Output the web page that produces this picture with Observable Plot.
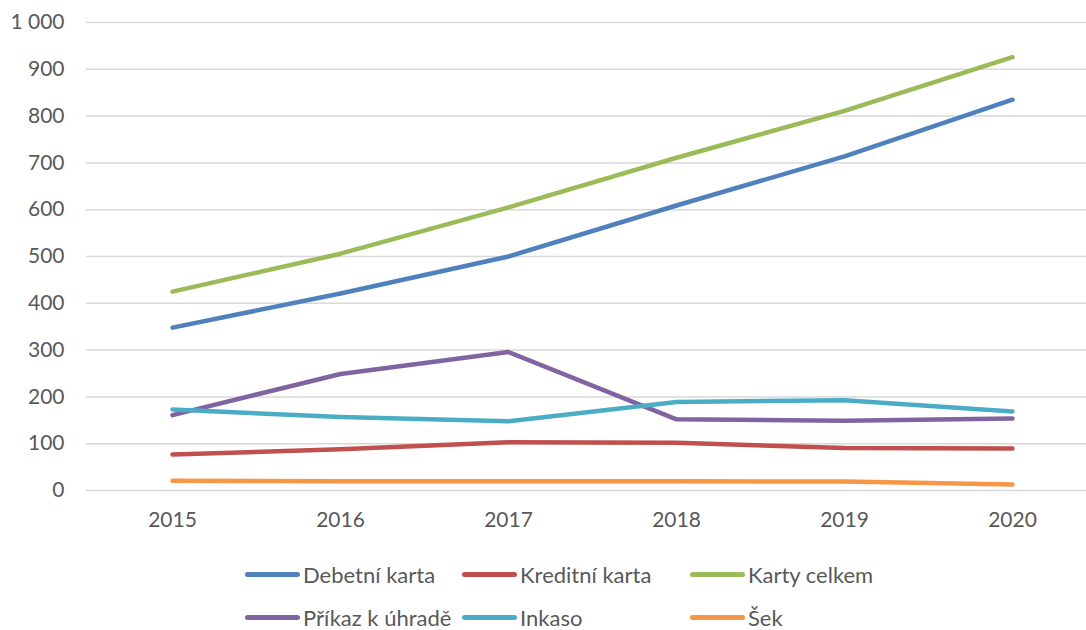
<!DOCTYPE html>
<html><head><meta charset="utf-8">
<script src="https://cdn.jsdelivr.net/npm/d3@7"></script>
<script src="https://cdn.jsdelivr.net/npm/@observablehq/plot@0.6"></script>
<style>
body{margin:0;background:#fff;font-family:Lato,"Open Sans",sans-serif;}
#wrap{position:relative;width:1086px;height:630px;}
#legend{position:absolute;left:0;top:0;width:1086px;height:630px;pointer-events:none;}
.li{position:absolute;display:flex;align-items:center;font-size:22px;color:#595959;white-space:nowrap;}
.sw{display:inline-block;width:55px;height:5px;border-radius:3px;margin-right:3px;}
</style></head>
<body><div id="wrap"><div id="chart"></div><div id="legend"></div></div>
<script>
const years = [2015, 2016, 2017, 2018, 2019, 2020];
const seriesNames = ["Debetní karta", "Kreditní karta", "Karty celkem", "Příkaz k úhradě", "Inkaso", "Šek"];
const debetni = [348, 421, 500, 609, 714, 835];
const kreditni = [77, 88, 103, 102, 91, 90];
const kartyCelkem = [425, 506, 605, 711, 811, 926];
const prikaz = [161, 249, 296, 152, 149, 154];
const inkaso = [173, 157, 148, 189, 193, 169];
const sek = [21, 20, 20, 20, 19, 13];
const yTicks = [0, 100, 200, 300, 400, 500, 600, 700, 800, 900, 1000];
const colors = ["#4f81bd", "#c0504d", "#9bbb59", "#8064a2", "#4bacc6", "#f79646"];

const allValues = [debetni, kreditni, kartyCelkem, prikaz, inkaso, sek];
const data = [];
seriesNames.forEach((s, i) => years.forEach((y, j) => data.push({series: s, year: y, value: allValues[i][j]})));

const fmt = d => d3.format(",")(d).replace(/,/g, " ");

const chart = Plot.plot({
  width: 1086, height: 540,
  marginLeft: 86, marginRight: 0, marginTop: 22, marginBottom: 50,
  style: {fontFamily: "Lato, 'Open Sans', sans-serif", fontSize: "21px", color: "#595959", background: "#fff"},
  x: {type: "point", domain: years, range: [171, 1012], padding: 0},
  y: {domain: [0, 1000]},
  color: {domain: seriesNames, range: colors},
  marks: [
    Plot.gridY(yTicks, {stroke: "#d9d9d9", strokeOpacity: 1, strokeWidth: 1.5}),
    Plot.axisY(yTicks, {tickSize: 0, tickPadding: 22, tickFormat: fmt, label: null, fill: "#595959"}),
    Plot.axisX(years, {tickSize: 0, tickPadding: 22, tickFormat: d => String(d), label: null, fill: "#595959"}),
    Plot.line(data, {x: "year", y: "value", z: "series", stroke: "series", strokeWidth: 4.5, strokeLinecap: "round", strokeLinejoin: "round"})
  ]
});
document.getElementById("chart").appendChild(chart);

const legendPos = [[245, 575], [462, 575], [690, 575], [245, 618], [462, 618], [690, 618]];
const leg = document.getElementById("legend");
seriesNames.forEach((s, i) => {
  const d = document.createElement("div");
  d.className = "li";
  d.style.left = legendPos[i][0] + "px";
  d.style.top = (legendPos[i][1] - 14) + "px";
  d.innerHTML = `<span class="sw" style="background:${colors[i]}"></span>${s}`;
  leg.appendChild(d);
});
</script></body></html>
